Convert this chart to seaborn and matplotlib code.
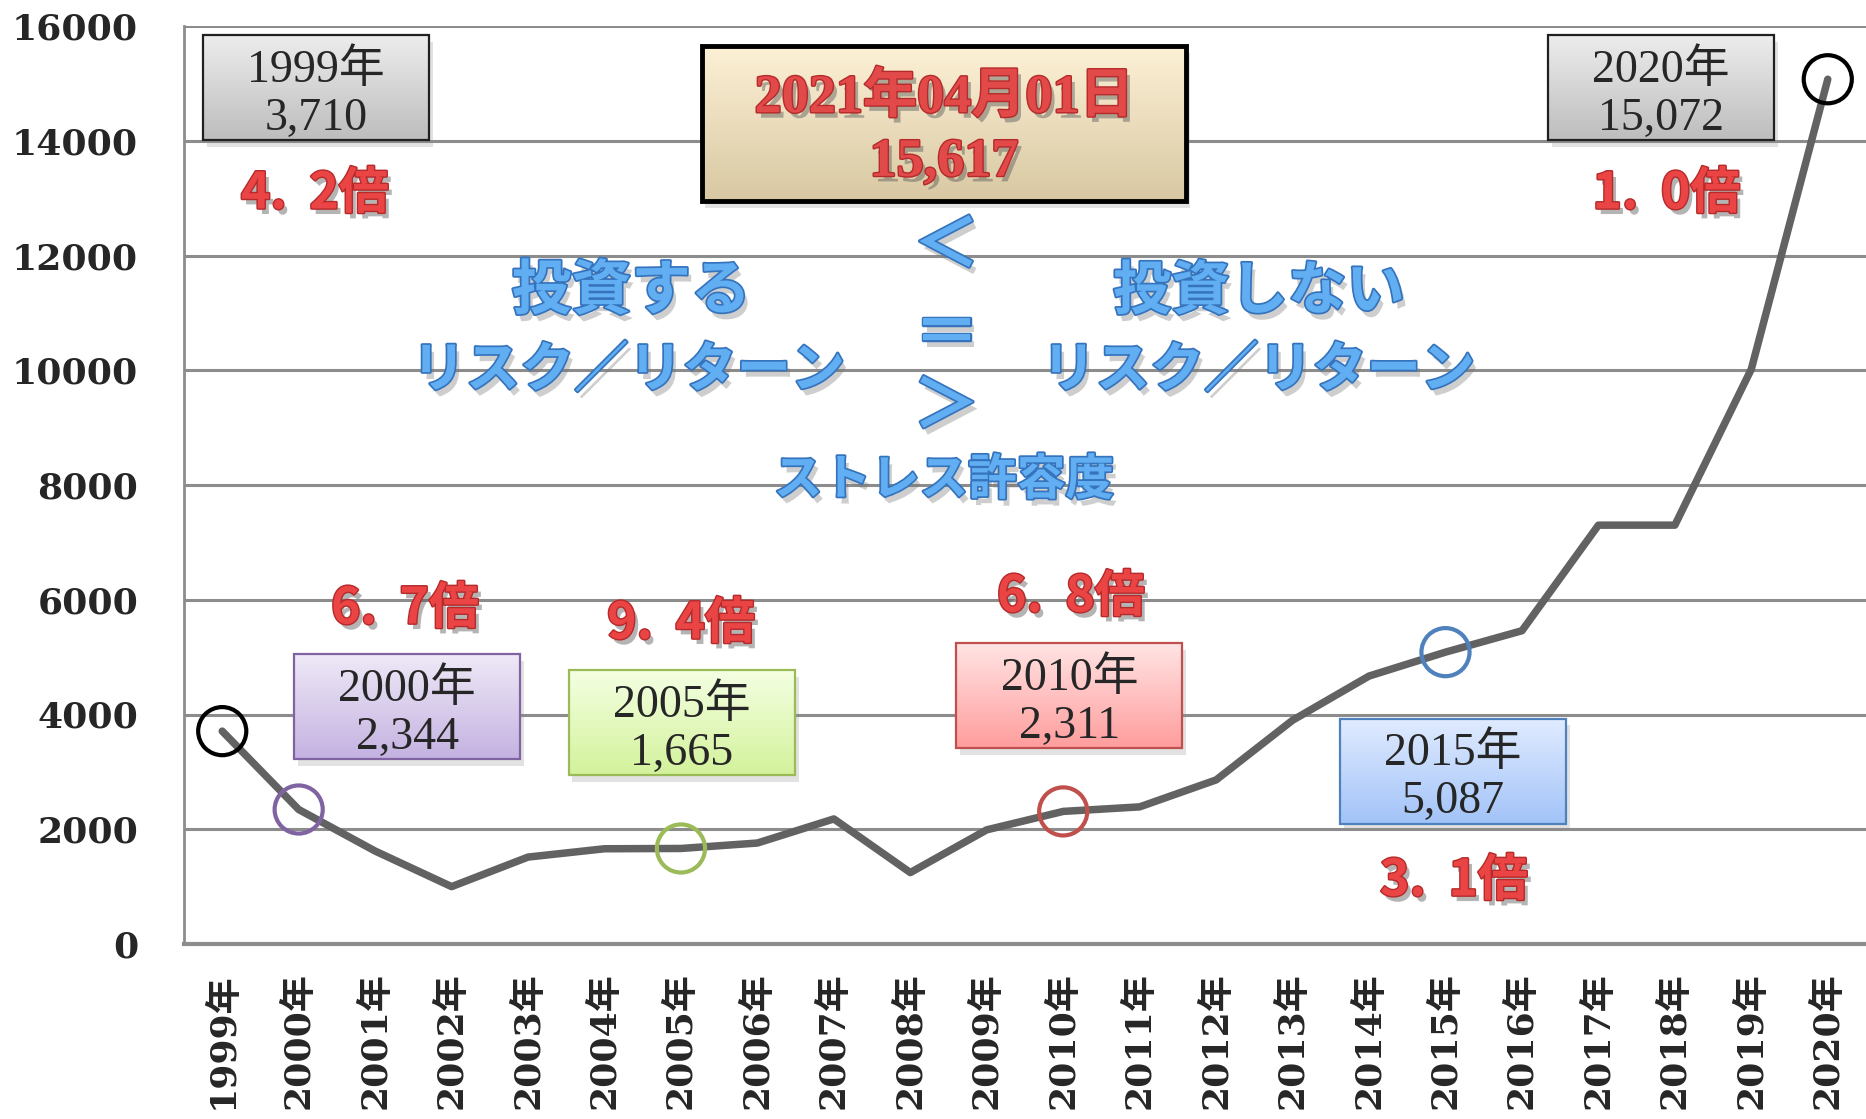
import numpy as np
import matplotlib
matplotlib.use("Agg")
import matplotlib.pyplot as plt
import matplotlib.patheffects as pe
from matplotlib.patches import Rectangle
from matplotlib.colors import LinearSegmentedColormap
import seaborn as sns

# -----------------------------
# DATA
# -----------------------------
years = ["1999年", "2000年", "2001年", "2002年", "2003年", "2004年", "2005年", "2006年",
         "2007年", "2008年", "2009年", "2010年", "2011年", "2012年", "2013年", "2014年",
         "2015年", "2016年", "2017年", "2018年", "2019年", "2020年"]
values = [3710, 2344, 1620, 1000, 1515, 1660, 1665, 1760, 2180, 1245, 1990, 2311,
          2390, 2860, 3900, 4670, 5087, 5460, 7300, 7300, 10020, 15072]

highlight_years = ["1999年", "2000年", "2005年", "2010年", "2015年", "2020年"]
highlight_colors = ["#000000", "#8064a2", "#9bbb59", "#c0504d", "#4f81bd", "#000000"]

current_date = "2021年04月01日"
current_value = 15617

y_ticks = [0, 2000, 4000, 6000, 8000, 10000, 12000, 14000, 16000]

# -----------------------------
# STYLE
# -----------------------------
sns.set_style("white")
plt.rcParams["font.family"] = ["DejaVu Serif", "Noto Sans CJK JP"]

W, H = 1866, 1119
fig = plt.figure(figsize=(W / 100, H / 100), dpi=100)
ax = fig.add_axes([184 / W, 175 / H, (W - 184) / W, (944 - 26) / H])

x = np.arange(len(years))
sns.lineplot(x=x, y=values, color="#626262", linewidth=5.4, ax=ax, zorder=4)

# highlight circles
hl_idx = [years.index(y) for y in highlight_years]
hl_vals = [values[i] for i in hl_idx]
sns.scatterplot(x=x[hl_idx], y=hl_vals, hue=highlight_years, palette=dict(zip(highlight_years, highlight_colors)),
                s=1200, linewidth=3.0, legend=False, ax=ax, zorder=6)
coll = ax.collections[-1]
coll.set_edgecolors(coll.get_facecolors())
coll.set_facecolors("none")

# axes
ax.set_xlim(-0.5, len(years) - 0.5)
ax.set_ylim(0, 16000)
ax.set_yticks(y_ticks)
ax.set_yticklabels([str(t) for t in y_ticks], fontsize=26, fontweight="bold", family="DejaVu Serif")
ax.set_xticks(x)
ax.set_xticklabels(years, rotation=90, fontsize=26, fontweight="bold", va="top")
ax.set_xticks(np.arange(-0.5, len(years)), minor=True)
ax.tick_params(axis="x", which="major", length=0, pad=20)
ax.tick_params(axis="x", which="minor", length=9, width=1.6, color="#8c8c8c")
ax.tick_params(axis="y", length=11, width=2, color="#8c8c8c", pad=22)
ax.yaxis.grid(True, color="#8c8c8c", linewidth=2.2)
ax.set_axisbelow(True)
for s in ["top", "right"]:
    ax.spines[s].set_visible(False)
ax.spines["left"].set_color("#8c8c8c")
ax.spines["left"].set_linewidth(2)
ax.spines["bottom"].set_color("#8c8c8c")
ax.spines["bottom"].set_linewidth(3)
ax.set_xlabel("")
ax.set_ylabel("")


def grad_box(xc, yc, w, h, top, bot, edge, lw=1.5, z=7):
    x0, y0 = xc - w / 2, yc - h / 2
    ax.add_patch(Rectangle((x0 + 0.05, y0 - 110), w, h, facecolor="0.55", alpha=0.25,
                           edgecolor="none", zorder=z - 0.5))
    cmap = LinearSegmentedColormap.from_list("g", [bot, top])
    grad = np.linspace(0, 1, 256).reshape(-1, 1)
    ax.imshow(grad, extent=(x0, x0 + w, y0, y0 + h), origin="lower", cmap=cmap,
              aspect="auto", zorder=z, interpolation="bicubic")
    ax.add_patch(Rectangle((x0, y0), w, h, facecolor="none", edgecolor=edge,
                           linewidth=lw, zorder=z + 0.1))


red_fx = [pe.SimplePatchShadow(offset=(3, -4), shadow_rgbFace="0.35", alpha=0.45),
          pe.Stroke(linewidth=2, foreground="#b52a2a"), pe.Normal()]
blue_fx = [pe.SimplePatchShadow(offset=(3, -5), shadow_rgbFace="0.45", alpha=0.35),
           pe.Stroke(linewidth=2.5, foreground="#3574bd"), pe.Normal()]

# value boxes and ratio labels
box_pos = [(1.23, 14920), (2.42, 4131), (6.01, 3852), (11.08, 4323), (16.1, 3015), (18.82, 14920)]
ratio_pos = [(1.21, 13073), (2.39, 5839), (6.0, 5578), (11.1, 6048), (16.11, 1098), (18.89, 13073)]
box_fill = [("#ededed", "#bdbdbd"), ("#efe9f7", "#c4b2e1"), ("#f4ffe3", "#d3f29b"),
            ("#ffe4e4", "#ff9d9d"), ("#e0ebff", "#a2c3f8"), ("#ededed", "#bdbdbd")]
for i, (yr, col) in enumerate(zip(highlight_years, highlight_colors)):
    v = values[years.index(yr)]
    bx, by = box_pos[i]
    edge = "#202020" if col == "#000000" else col
    grad_box(bx, by, 2.96, 1830, box_fill[i][0], box_fill[i][1], edge, lw=1.6)
    ax.text(bx, by - 110, f"{yr}\n{v:,}", ha="center", va="center", fontsize=33, linespacing=1.17,
            family=["Liberation Serif", "Noto Sans CJK JP"], zorder=9)
    ratio = f"{current_value / v:.1f}".replace(".", ".  ") + "倍"
    rx, ry = ratio_pos[i]
    ax.text(rx, ry, ratio, ha="center", va="center", fontsize=36, fontweight="bold",
            family="Noto Sans CJK JP", color="#ea4444", path_effects=red_fx, zorder=9)

# current value box
grad_box(9.44, 14293, 6.34, 2702, "#fdf1d6", "#d8c8a2", "#000000", lw=3.5)
ax.text(9.44, 14293 - 110, f"{current_date}\n{current_value:,}", ha="center", va="center",
        fontsize=39, fontweight="bold", linespacing=1.36, color="#e24a4a",
        family=["Liberation Serif", "Noto Sans CJK JP"], path_effects=red_fx, zorder=9)

# blue comparison texts
blue_kw = dict(ha="center", va="center", fontweight="bold", family="Noto Sans CJK JP",
               color="#62aef2", path_effects=blue_fx, zorder=8)
ax.text(5.35, 11364, "投資する", fontsize=43, **blue_kw)
ax.text(5.31, 9987, "リスク／リターン", fontsize=39, **blue_kw)
ax.text(13.56, 11364, "投資しない", fontsize=42, **blue_kw)
ax.text(13.55, 9987, "リスク／リターン", fontsize=39, **blue_kw)
ax.text(9.47, 12150, "＜", fontsize=48, **blue_kw)
ax.text(9.47, 10600, "＝", fontsize=48, **blue_kw)
ax.text(9.47, 9350, "＞", fontsize=48, **blue_kw)
ax.text(9.44, 8088, "ストレス許容度", fontsize=35, **blue_kw)

ax.set_xlim(-0.5, len(years) - 0.5)
ax.set_ylim(0, 16000)

plt.savefig("out.png", dpi=100)
plt.close()
